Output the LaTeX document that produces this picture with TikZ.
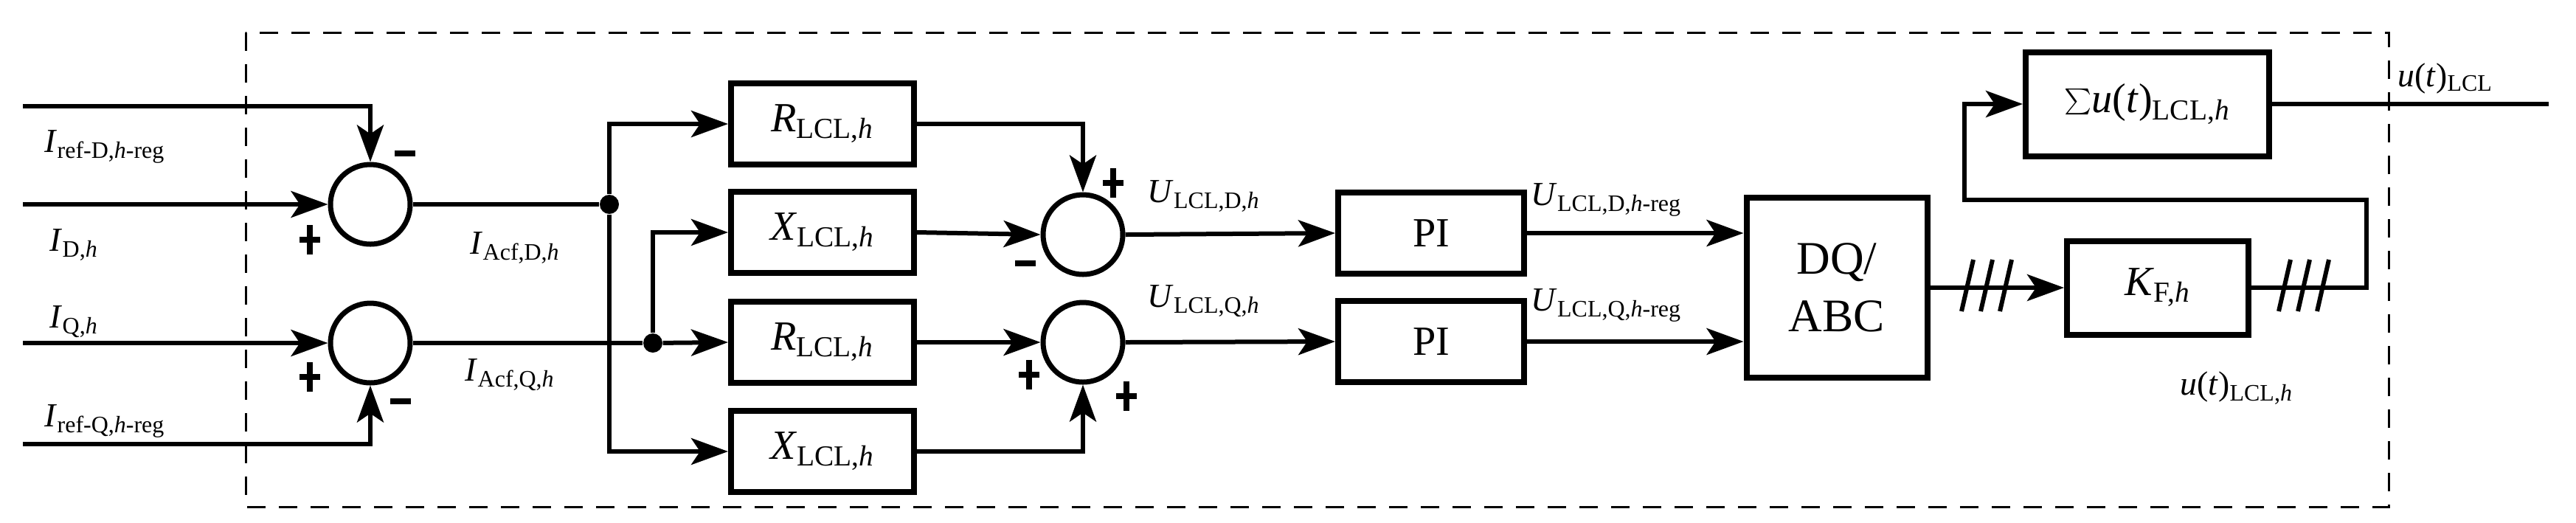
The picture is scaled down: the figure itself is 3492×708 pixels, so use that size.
\documentclass[tikz,border=0pt]{standalone}
\usepackage{fontspec}
\setmainfont{Liberation Serif}
\usetikzlibrary{arrows.meta}
\begin{document}
\begin{tikzpicture}[x=0.1mm,y=-0.1mm,
  ln/.style={line width=0.6mm},
  ar/.style={ln,-{Stealth[length=5mm,width=3.6mm,inset=1.2mm]}},
  blk/.style={draw,line width=0.8mm,minimum width=24.8mm,minimum height=11mm,inner sep=0pt,font=\fontsize{16}{18}\selectfont},
  sum/.style={draw,circle,line width=0.7mm,minimum size=10.8mm,inner sep=0pt},
  lab/.style={font=\fontsize{13}{15}\selectfont,inner sep=0pt},
  dot/.style={circle,fill,minimum size=2.6mm,inner sep=0pt},
  sgn/.style={line width=0.8mm}]
\useasboundingbox (0,0) rectangle (3492,708);
\draw[line width=0.3mm,dash pattern=on 2.5mm off 1.8mm] (333,44) rectangle (3238,687);
% sums
\node[sum] (s1) at (502,277) {};
\node[sum] (s2) at (502,465) {};
\node[sum] (s3) at (1468,318) {};
\node[sum] (s4) at (1468,464) {};
% blocks
\node[blk] (r1) at (1115,168) {\textit{R}\textsubscript{LCL,\textit{h}}};
\node[blk] (x1) at (1115,315) {\textit{X}\textsubscript{LCL,\textit{h}}};
\node[blk] (r2) at (1115,464) {\textit{R}\textsubscript{LCL,\textit{h}}};
\node[blk] (x2) at (1115,612) {\textit{X}\textsubscript{LCL,\textit{h}}};
\node[blk,minimum width=25.2mm] (pi1) at (1940,316) {PI};
\node[blk,minimum width=25.2mm] (pi2) at (1940,463) {PI};
\node[blk,minimum width=24.5mm,minimum height=24.4mm,align=center,font=\fontsize{18}{22}\selectfont] (dq) at (2490,390) {DQ/\\ABC};
\node[blk,minimum width=24.6mm,minimum height=12.7mm] (kf) at (2925,390) {\textit{K}\textsubscript{F,\textit{h}}};
\node[blk,minimum width=33mm,minimum height=14.1mm] (su) at (2911,141) {$\sum$\textit{u}(\textit{t})\textsubscript{LCL,\textit{h}}};
% coordinates
\coordinate (a1) at (31,144); \coordinate (a2) at (31,277);
\coordinate (a3) at (31,465); \coordinate (a4) at (31,602);
\node[dot] (j1) at (826,277) {};
\node[dot] (j2) at (885,465) {};
\coordinate (out) at (3455,141);
% inputs
\draw[ar] (a1) -| (s1.north);
\draw[ar] (a2) -- (s1.west);
\draw[ar] (a3) -- (s2.west);
\draw[ar] (a4) -| (s2.south);
\draw[ln] (s1.east) -- (j1);
\draw[ln] (s2.east) -- (j2);
\draw[ar] (j1) |- (r1.west);
\draw[ar] (j1) |- (x2.west);
\draw[ar] (j2) |- (x1.west);
\draw[ar] (j2) -- (r2.west);
\draw[ar] (r1.east) -| (s3.north);
\draw[ar] (x1.east) -- (s3.west);
\draw[ar] (r2.east) -- (s4.west);
\draw[ar] (x2.east) -| (s4.south);
\draw[ar] (s3.east) -- (pi1.west);
\draw[ar] (s4.east) -- (pi2.west);
\draw[ar] (pi1.east) -- (dq.west |- pi1.east);
\draw[ar] (pi2.east) -- (dq.west |- pi2.east);
\draw[ar] (dq.east) -- (kf.west);
\draw[ar] (kf.east) -- ++(156,0) |- (2663,271) |- (su.west);
\draw[ln] (su.east) -- (out);
% slashes
\foreach \x in {2667,2693,2719,3097,3123,3149}
  \draw[line width=0.6mm] (\x-8,422) -- (\x+8,352);
% signs
\def\plus#1{\draw[sgn] ($#1+(-14,0)$) -- ($#1+(14,0)$) ($#1+(0,-20)$) -- ($#1+(0,20)$);}
\def\minus#1{\draw[sgn] ($#1+(-14,0)$) -- ($#1+(14,0)$);}
\draw[sgn] (535,208) -- (563,208);
\draw[sgn] (406,325) -- (434,325) (420,305) -- (420,345);
\draw[sgn] (406,511) -- (434,511) (420,491) -- (420,531);
\draw[sgn] (529,544) -- (557,544);
\draw[sgn] (1495,248) -- (1523,248) (1509,228) -- (1509,268);
\draw[sgn] (1376,357) -- (1404,357);
\draw[sgn] (1381,508) -- (1409,508) (1395,488) -- (1395,528);
\draw[sgn] (1513,537) -- (1541,537) (1527,517) -- (1527,557);
% labels
\node[lab,anchor=west] (l1) at (60,199) {\textit{I}\textsubscript{ref-D,\textit{h}-reg}};
\node[lab,anchor=west] (l2) at (67,332) {\textit{I}\textsubscript{D,\textit{h}}};
\node[lab,anchor=west] (l3) at (67,436) {\textit{I}\textsubscript{Q,\textit{h}}};
\node[lab,anchor=west] (l4) at (60,571) {\textit{I}\textsubscript{ref-Q,\textit{h}-reg}};
\node[lab,anchor=west] (l5) at (637,336) {\textit{I}\textsubscript{Acf,D,\textit{h}}};
\node[lab,anchor=west] (l6) at (630,508) {\textit{I}\textsubscript{Acf,Q,\textit{h}}};
\node[lab,anchor=west] (l7) at (1555,266) {\textit{U}\textsubscript{LCL,D,\textit{h}}};
\node[lab,anchor=west] (l8) at (1555,408) {\textit{U}\textsubscript{LCL,Q,\textit{h}}};
\node[lab,anchor=west] (l9) at (2075,271) {\textit{U}\textsubscript{LCL,D,\textit{h}-reg}};
\node[lab,anchor=west] (l10) at (2075,414) {\textit{U}\textsubscript{LCL,Q,\textit{h}-reg}};
\node[lab,anchor=west] (l11) at (3250,106) {\textit{u}(\textit{t})\textsubscript{LCL}};
\node[lab,anchor=west] (l12) at (2955,526) {\textit{u}(\textit{t})\textsubscript{LCL,\textit{h}}};
\end{tikzpicture}
\end{document}
